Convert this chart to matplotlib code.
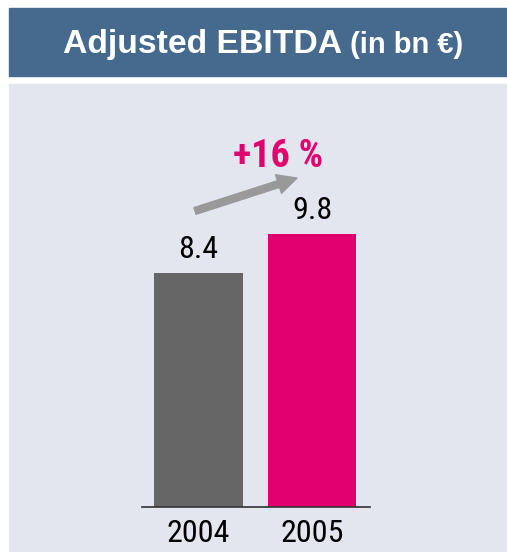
import matplotlib.pyplot as plt
from matplotlib.patches import Rectangle
from matplotlib import font_manager

years = ["2004", "2005"]
ebitda = [8.4, 9.8]
value_labels = ["8.4", "9.8"]
growth_label = "+16 %"
bar_colors = ["#666666", "#E2006F"]

# pick a condensed sans with a bold face if one is installed
fonts = font_manager.fontManager.ttflist
def has_bold(name):
    return any(f.name == name and f.weight in (600, 700, "bold", "semibold") for f in fonts)

narrow = "Liberation Sans"
for cand in ["Liberation Sans Narrow", "Archivo Narrow", "Roboto Condensed",
             "Fira Sans Condensed", "IBM Plex Sans Condensed", "Barlow Semi Condensed"]:
    if has_bold(cand):
        narrow = cand
        break
plt.rcParams["font.family"] = [narrow, "DejaVu Sans"]
title_font = ["Liberation Sans", "DejaVu Sans"]

W, H = 507, 552
fig = plt.figure(figsize=(W / 100, H / 100), dpi=100)
fig.patch.set_facecolor("white")

# title bar and grey panel
fig.patches.append(Rectangle((9 / W, 1 - 76 / H), 1 - 9 / W, 68 / H,
                             transform=fig.transFigure, color="#466A8E", zorder=-2))
fig.patches.append(Rectangle((9 / W, 0), 1 - 9 / W, 1 - 84 / H,
                             transform=fig.transFigure, color="#E3E6EE", zorder=-2))

fig.text(63 / W, 1 - 53 / H, "Adjusted EBITDA", color="white", fontsize=24.3,
         fontweight="bold", family=title_font, va="baseline", ha="left")
fig.text(350 / W, 1 - 53 / H, "(in bn \u20ac)", color="white", fontsize=21,
         fontweight="bold", family=title_font, va="baseline", ha="left")

# axes: baseline at y=507 px, x from 142 to 370 px
px_per_unit = 27.9
ymax = 11
ax = fig.add_axes([142 / W, (H - 507) / H, 228 / W, ymax * px_per_unit / H])
ax.set_zorder(1)
ax.set_facecolor("none")
x = range(len(years))
ax.bar(x, ebitda, width=0.784, color=bar_colors, zorder=2)
ax.set_xlim(-0.498, 1.511)
ax.set_ylim(0, ymax)
for s in ["top", "right", "left"]:
    ax.spines[s].set_visible(False)
ax.spines["bottom"].set_color("#333333")
ax.spines["bottom"].set_linewidth(1.2)
ax.set_yticks([])
ax.set_xticks(list(x))
ax.set_xticklabels(years, fontsize=23)
ax.tick_params(axis="x", length=0, pad=9)

for xi, v, lab in zip(x, ebitda, value_labels):
    ax.text(xi, v + 0.3, lab, ha="center", va="bottom", fontsize=23, color="black")

# growth arrow and label
ax.annotate("", xy=(0.868, 11.79), xytext=(-0.031, 10.61),
            arrowprops=dict(arrowstyle="simple,head_length=14,head_width=14,tail_width=5",
                            mutation_scale=1, color="#999999", shrinkA=0, shrinkB=0),
            annotation_clip=False)
ax.text(0.70, 12.58, growth_label, ha="center", va="center", fontsize=27.5,
        fontweight="bold", color="#E2006F")

fig.savefig("out.png", dpi=100)
